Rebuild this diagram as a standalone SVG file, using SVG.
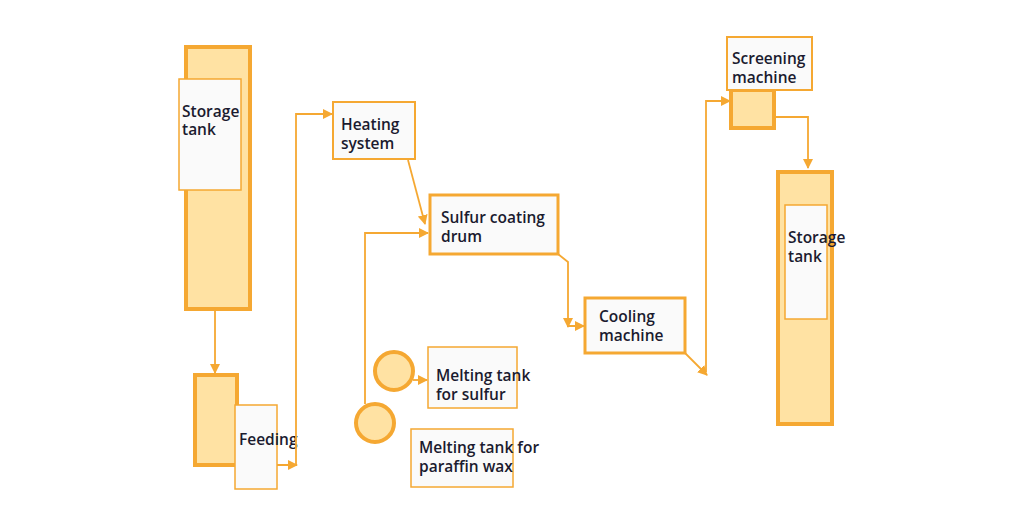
<svg xmlns="http://www.w3.org/2000/svg" width="1024" height="515" viewBox="0 0 1024 515">
<defs>
<marker id="ah" markerWidth="10" markerHeight="10" refX="9" refY="5" orient="auto" markerUnits="userSpaceOnUse"><path d="M0,0 L10,5 L0,10 z" fill="#F5A832"/></marker>
</defs>
<style>
.tank{fill:#FFE2A3;stroke:#F5A832;stroke-width:4}
.lbl{fill:#FAFAFA;stroke:#F5A832;stroke-width:1.5}
.box{fill:#FAFAFA;stroke:#F5A832}
.c{fill:none;stroke:#F5A832;stroke-width:1.8}
text{font-family:"Open Sans","Liberation Sans",sans-serif;font-size:15.5px;font-weight:600;fill:#1B1B2F}
</style>
<rect width="1024" height="515" fill="#fff"/>
<g id="storage1"><rect class="tank" x="186" y="47" width="64" height="262"/><rect class="lbl" x="179" y="79" width="62" height="111"/><text x="182" y="117">Storage</text><text x="182" y="135">tank</text></g>
<g id="feeding"><rect class="tank" x="195" y="375" width="42" height="90"/><rect class="lbl" x="235" y="405" width="42" height="84"/><text x="239" y="445">Feeding</text></g>
<g id="heating"><rect class="box" stroke-width="2" x="333" y="102" width="82" height="57"/><text x="341" y="130">Heating</text><text x="341" y="149">system</text></g>
<g id="drum"><rect class="box" stroke-width="3" x="430" y="195" width="128" height="59"/><text x="441" y="223">Sulfur coating</text><text x="441" y="242">drum</text></g>
<g id="meltS"><circle class="tank" stroke-width="2" cx="394" cy="371" r="19"/><rect class="lbl" x="428" y="347" width="89" height="61"/><text x="436" y="381">Melting tank</text><text x="436" y="400">for sulfur</text></g>
<g id="meltP"><circle class="tank" stroke-width="2" cx="375" cy="423" r="19"/><rect class="lbl" x="411" y="429" width="102" height="58"/><text x="419" y="453">Melting tank for</text><text x="419" y="472">paraffin wax</text></g>
<g id="cooling"><rect class="box" stroke-width="3" x="585" y="298" width="100" height="55"/><text x="599" y="322">Cooling</text><text x="599" y="341">machine</text></g>
<g id="screening"><rect class="tank" stroke-width="3" x="731" y="90" width="43" height="38"/><rect class="box" stroke-width="2" x="727" y="37" width="85" height="53"/><text x="732" y="64">Screening</text><text x="732" y="83">machine</text></g>
<g id="storage2"><rect class="tank" x="778" y="172" width="54" height="252"/><rect class="lbl" x="785" y="205" width="42" height="114"/><text x="788" y="243">Storage</text><text x="788" y="262">tank</text></g>
<g id="connectors">
<path class="c" d="M215,309 V373" marker-end="url(#ah)"/>
<path class="c" d="M277,465 H296 V114 H332" marker-end="url(#ah)"/>
<path class="c" d="M278,465 H297" marker-end="url(#ah)"/>
<path class="c" d="M408,160 L425,224" marker-end="url(#ah)"/>
<path class="c" d="M365,404 V233 H428" marker-end="url(#ah)"/>
<path class="c" d="M413,380 H427" marker-end="url(#ah)"/>
<path class="c" d="M558,254 L568,262 V326 H584" marker-end="url(#ah)"/>
<path class="c" d="M568,322 V327" marker-end="url(#ah)"/>
<path class="c" d="M685,353 L707,375" marker-end="url(#ah)"/>
<path class="c" d="M706,372 V101 H730" marker-end="url(#ah)"/>
<path class="c" d="M774,117 H808 V168" marker-end="url(#ah)"/>
</g>
</svg>
